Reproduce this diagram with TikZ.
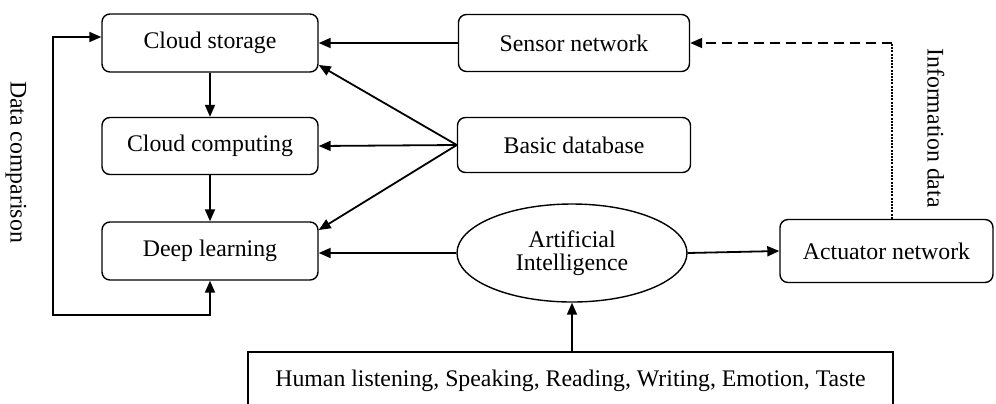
\documentclass[tikz,border=0pt]{standalone}
\usepackage{fontspec}
\setmainfont{Liberation Serif}
\usetikzlibrary{arrows.meta}
\usetikzlibrary{shapes.geometric}

\tikzset{
	block/.style={draw, rounded corners=4pt, inner sep=0pt, line width=0.7pt},
	link/.style={-{Triangle[length=6pt,width=5pt]}, line width=0.9pt},
}

\begin{document}
\begin{tikzpicture}[x=0.5pt,y=-0.5pt,font=\fontsize{11.9pt}{11.5pt}\selectfont]
			\useasboundingbox (0,0) rectangle (996,403);
			
			% left column
			\node[block,minimum width=108pt,minimum height=29pt] (storage) at (210,43) {Cloud storage};
			\node[block,minimum width=108pt,minimum height=28.5pt] (computing) at (210,146) {Cloud computing};
			\node[block,minimum width=108pt,minimum height=29pt] (deep) at (210,251) {Deep learning};
			
			% middle column
			\node[block,minimum width=115.5pt,minimum height=28.5pt] (sensor) at (574,43) {Sensor network};
			\node[block,minimum width=116.5pt,minimum height=27.5pt] (database) at (574,145) {Basic database};
			\node[draw,ellipse,line width=0.7pt,inner sep=0pt,minimum width=115pt,minimum height=49pt,align=center] (ai) at (572,253) {Artificial\\Intelligence};
			\node[block,minimum width=106.5pt,minimum height=31.5pt] (actuator) at (886.5,251) {Actuator network};
			\node[draw,line width=0.7pt,inner sep=0pt,minimum width=322.5pt,minimum height=29pt] (human) at (570.5,381) {Human listening, Speaking, Reading, Writing, Emotion, Taste};
			
			% side labels
			\node[rotate=-90] (dcomp) at (16,162) {Data comparison};
			\node[rotate=-90] (infodata) at (936,128) {Information data};
			
			% connectors
			\draw[link] (storage) -- (computing);
			\draw[link] (computing) -- (deep);
			\draw[link] (sensor.west) -- (storage.east);
			\draw[link] (database.west) -- ([yshift=-11pt]storage.east);
			\draw[link] (database.west) -- (computing.east);
			\draw[link] (database.west) -- ([yshift=10.5pt]deep.east);
			\draw[link] (ai.west) -- (deep.east |- ai.west);
			\draw[link] (ai.east) -- (actuator.west);
			\draw[link] (human.north -| ai.south) -- (ai.south);
			
			\coordinate (loopbot) at (53,315);
			\draw[link,{Triangle[length=6pt,width=5pt]}-{Triangle[length=6pt,width=5pt]}] (deep.south) |- (loopbot) |- ([yshift=3pt]storage.west);
			
			\coordinate (infocorner) at ([xshift=2.75pt]actuator.north |- sensor.east);
			\draw[line width=0.6pt,dash pattern=on 1pt off 0.6pt] ([xshift=2.75pt]actuator.north) -- (infocorner);
			\draw[link,dash pattern=on 5pt off 3pt] (infocorner) -- (sensor.east);
			
		\end{tikzpicture}
\end{document}
